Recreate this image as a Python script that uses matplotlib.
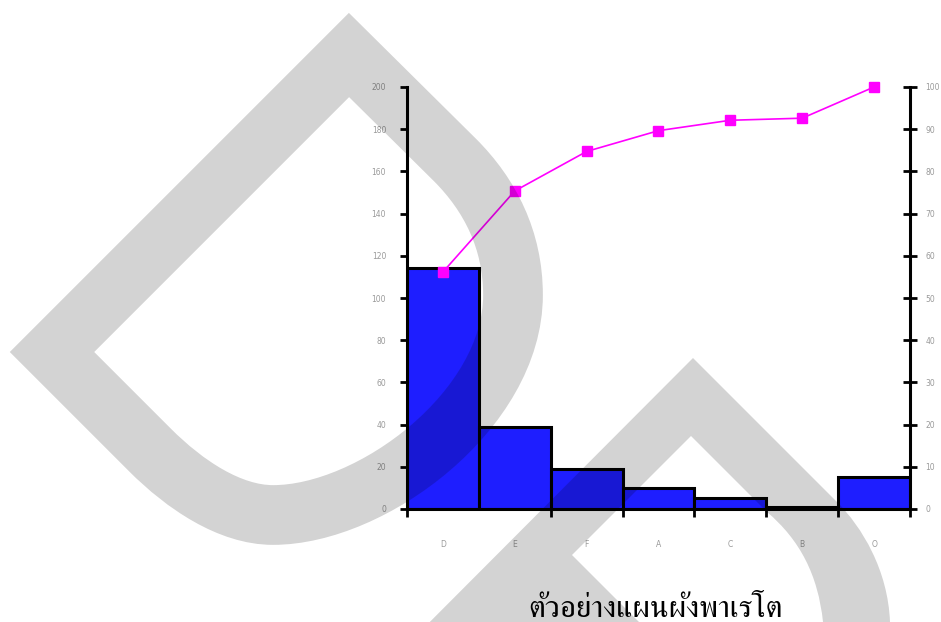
import numpy as np
import matplotlib
matplotlib.use("Agg")
import matplotlib.pyplot as plt
from matplotlib import font_manager
from matplotlib.ft2font import FT2Font
from matplotlib.path import Path
from matplotlib.patches import PathPatch

# defect counts per category, already sorted for the pareto
categories = ["D", "E", "F", "A", "C", "B", "O"]
counts = [114, 39, 19, 10, 5, 1, 15]
left_ticks = [0, 20, 40, 60, 80, 100, 120, 140, 160, 180, 200]
right_ticks = [0, 10, 20, 30, 40, 50, 60, 70, 80, 90, 100]
title = "ตัวอย่างแผนผังพาเรโต"

W, H = 941, 622


def thai_font():
    # an installed family that really has Thai glyphs; regular weight, serif first
    found = []
    for f in font_manager.fontManager.ttflist:
        try:
            if not FT2Font(f.fname).get_char_index(ord("ต")):
                continue
        except Exception:
            continue
        w = f.weight if isinstance(f.weight, int) else 400
        serif = "Serif" in f.name or "Norasi" in f.name
        found.append((abs(w - 400), 0 if serif else 1, f.name))
    found.sort()
    return found[0][2] if found else "DejaVu Sans"


def watermark(ax):
    # two grey shapes laid over everything, darkening what is under them
    M, L, C = Path.MOVETO, Path.LINETO, Path.CURVE4
    big = Path(
        [(349, 55), (52, 352), (150, 450),
         (185, 485), (230, 515), (273, 515),
         (372, 515), (513, 410), (513, 295),
         (513, 240), (490, 195), (455, 160),
         (349, 55), (349, 55)],
        [M, L, L, C, C, C, C, C, C, C, C, C, L, Path.CLOSEPOLY])
    small = Path(
        [(352, 700), (693, 358), (837, 502),
         (862, 527), (888, 570), (890, 622),
         (891, 700), (825, 700), (823, 622),
         (818, 575), (800, 540), (767, 512),
         (691, 436), (572, 555), (717, 700), (352, 700)],
        [M, L, L, C, C, C, L, L, L, C, C, C, L, L, L, Path.CLOSEPOLY])
    shade = (0, 0, 0, 0.173)
    ax.add_patch(PathPatch(big, facecolor="none", edgecolor=shade,
                           lw=43, joinstyle="miter", capstyle="butt"))
    ax.add_patch(PathPatch(small, facecolor=shade, edgecolor="none"))


fig = plt.figure(figsize=(W / 100, H / 100), dpi=100)
fig.patch.set_facecolor("white")

x0, x1, ytop, ybot = 407, 910, 87, 509
ax = fig.add_axes([x0 / W, 1 - ybot / H, (x1 - x0) / W, (ybot - ytop) / H])

x = np.arange(len(categories))
ax.bar(x, counts, width=1.0, color="#1e1eff", edgecolor="black", linewidth=2.2, zorder=2)
ax.set_xlim(-0.5, len(categories) - 0.5)
ax.set_ylim(0, 200)
ax.set_yticks(left_ticks)
ax.set_xticks(x)
ax.set_xticklabels(categories)
ax.set_xticks([-0.5, 1.5, 2.5, 3.5, 4.5, 5.5, 6.5], minor=True)

for s in ("top", "right"):
    ax.spines[s].set_visible(False)
for s in ("left", "bottom"):
    ax.spines[s].set_linewidth(2.2)

grey = "#9a9a9a"
ax.tick_params(axis="y", direction="out", length=5, width=2, labelsize=5.5,
               labelcolor=grey, pad=10)
ax.tick_params(axis="x", which="major", length=0, labelsize=5.5,
               labelcolor=grey, pad=22)
ax.tick_params(axis="x", which="minor", direction="inout", length=11, width=2)

# cumulative percentage on the right axis
cum = np.cumsum(counts) / np.sum(counts) * 100
ax2 = ax.twinx()
ax2.plot(x, cum, color="#ff00ff", lw=1.2, marker="s", ms=7.5, zorder=3, clip_on=False)
ax2.set_ylim(0, 100)
ax2.set_yticks(right_ticks)
for s in ("top", "left", "bottom"):
    ax2.spines[s].set_visible(False)
ax2.spines["right"].set_linewidth(2.2)
ax2.tick_params(axis="y", direction="inout", length=10, width=2, labelsize=5.5,
                labelcolor=grey, pad=6)

fig.text(655 / W, 1 - 617 / H, title, ha="center", va="baseline",
         fontsize=22.5, family=[thai_font(), "DejaVu Sans"])

wm = fig.add_axes([0, 0, 1, 1], zorder=10)
wm.set_xlim(0, W)
wm.set_ylim(H, 0)
wm.axis("off")
wm.patch.set_visible(False)
watermark(wm)

fig.savefig("out.png", dpi=100)
